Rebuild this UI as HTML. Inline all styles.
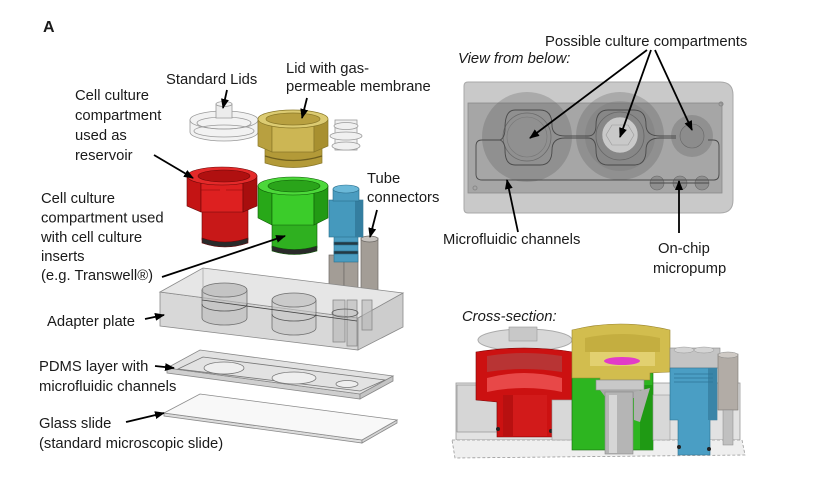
<!DOCTYPE html>
<html><head><meta charset="utf-8"><style>
html,body{margin:0;padding:0;background:#fff;}
svg{display:block;}
text{font-family:"Liberation Sans",sans-serif;font-size:14.8px;fill:#1a1a1a;}
</style></head><body>
<svg width="831" height="486" viewBox="0 0 831 486" xmlns="http://www.w3.org/2000/svg">
<defs>
<marker id="ah" markerWidth="10" markerHeight="8" refX="9" refY="4" orient="auto" markerUnits="userSpaceOnUse"><path d="M0,0 L10,4 L0,8 z" fill="#000"/></marker>
</defs>
<rect width="831" height="486" fill="#fff"/>

<!-- ===== Exploded view ===== -->
<!-- standard lid (transparent) -->
<g stroke="#9a9a9a" stroke-width="0.8" fill="#f2f2f2">
<path d="M190,120 L190,132 A34,9 0 0 0 258,132 L258,120 Z"/>
<ellipse cx="224" cy="120" rx="34" ry="9"/>
<ellipse cx="224" cy="123" rx="27" ry="6" fill="none"/>
<ellipse cx="224" cy="131" rx="30" ry="6" fill="none"/>
<path d="M216,104 L216,118 L232,118 L232,104 Z" fill="#ececec"/>
<ellipse cx="224" cy="104" rx="8" ry="2.5"/>
</g>
<!-- gold lid -->
<g stroke="#8a7828" stroke-width="0.7">
<path d="M265,148 L265,163 Q293,172 322,163 L322,148 Z" fill="#b39a38"/>
<path d="M265,156 Q293,165 322,156" fill="none" stroke="#6e5e1e" stroke-width="1.2"/>
<path d="M258,120 L272,126 L272,152 L258,146 Z" fill="#b8a040"/>
<path d="M272,126 L314,126 L314,152 L272,152 Z" fill="#ccb654"/>
<path d="M314,126 L328,120 L328,146 L314,152 Z" fill="#a89030"/>
<ellipse cx="293" cy="119" rx="35" ry="9" fill="#dccb72"/>
<ellipse cx="293" cy="119" rx="27" ry="6" fill="#b8a040"/>
</g>
<!-- small transparent connector -->
<g stroke="#9a9a9a" stroke-width="0.8" fill="#f0f0f0">
<rect x="335" y="120" width="22" height="30"/>
<ellipse cx="346" cy="146" rx="14" ry="4"/>
<ellipse cx="346" cy="136" rx="16" ry="4"/>
<ellipse cx="346" cy="126" rx="12" ry="3.5"/>
</g>
<!-- red -->
<g stroke="#6a0808" stroke-width="0.6">
<path d="M202,208 L202,240 Q225,248 248,240 L248,208 Z" fill="#c81818"/>
<path d="M202,238 Q225,246 248,238 L248,243 Q225,251 202,243 Z" fill="#2a2a2a"/>
<path d="M187,176 L201,183 L201,212 L187,206 Z" fill="#c41414"/>
<path d="M201,183 L243,183 L243,212 L201,212 Z" fill="#dd2020"/>
<path d="M243,183 L257,176 L257,206 L243,212 Z" fill="#a80e0e"/>
<path d="M201,190 L220,190 M226,190 L243,190" stroke="#8a0a0a" fill="none"/>
<ellipse cx="222" cy="176" rx="35" ry="9" fill="#e42a2a"/>
<ellipse cx="224" cy="176" rx="26" ry="6" fill="#b01010"/>
</g>
<!-- green -->
<g stroke="#0e5a06" stroke-width="0.6">
<path d="M272,222 L272,248 Q294,255 317,248 L317,222 Z" fill="#2fb020"/>
<path d="M272,246 Q294,253 317,246 L317,251 Q294,258 272,251 Z" fill="#2a2a2a"/>
<path d="M258,186 L272,193 L272,225 L258,218 Z" fill="#28a818"/>
<path d="M272,193 L314,193 L314,225 L272,225 Z" fill="#3bcc2a"/>
<path d="M314,193 L328,186 L328,218 L314,225 Z" fill="#229a14"/>
<ellipse cx="293" cy="186" rx="35" ry="9" fill="#4cd83a"/>
<ellipse cx="294" cy="186" rx="26" ry="6" fill="#2aa41a"/>
</g>
<!-- gray tube connectors -->
<g stroke="#6e6a66" stroke-width="0.7" fill="#a39d96">
<rect x="329" y="255" width="15" height="33"/>
<rect x="344" y="255" width="14" height="33"/>
<rect x="333" y="288" width="7" height="8"/>
<rect x="347" y="288" width="7" height="8"/>
<rect x="361" y="238" width="17" height="52"/>
<rect x="365" y="290" width="9" height="8"/>
<ellipse cx="369.5" cy="239" rx="8.5" ry="3" fill="#c8c4c0"/>
</g>
<!-- blue -->
<g stroke="#2b6f8d" stroke-width="0.6">
<rect x="334" y="236" width="24" height="26" fill="#4a9cc0"/>
<rect x="334" y="242" width="24" height="3" fill="#243a44"/>
<rect x="334" y="251" width="24" height="3" fill="#243a44"/>
<rect x="329" y="200" width="34" height="37" fill="#4599bd"/>
<rect x="355" y="200" width="8" height="37" fill="#347ea0" stroke="none"/>
<rect x="333" y="189" width="26" height="12" fill="#4a9cc0"/>
<ellipse cx="346" cy="189" rx="13" ry="4" fill="#6ab8d8"/>
</g>

<!-- adapter plate -->
<g stroke="#8a8a8a" stroke-width="0.8">
<path d="M160,292 L358,318 L358,350 L160,326 Z" fill="#d8d8d8"/>
<path d="M358,318 L403,293 L403,327 L358,350 Z" fill="#cdcdcd"/>
<path d="M160,292 L203,268 L403,293 L358,318 Z" fill="#e6e6e6"/>
<path d="M202,290 L202,318 A22.5,7 0 0 0 247,318 L247,290" fill="#bdbdbd" fill-opacity="0.6" stroke="#6f6f6f"/>
<ellipse cx="224.5" cy="290" rx="22.5" ry="7" fill="#c4c4c4" stroke="#6f6f6f"/>
<path d="M202,304 A22.5,7 0 0 0 247,304" fill="none" stroke="#555"/>
<path d="M272,300 L272,328 A22,7 0 0 0 316,328 L316,300" fill="#c4c4c4" fill-opacity="0.6" stroke="#6f6f6f"/>
<ellipse cx="294" cy="300" rx="22" ry="7" fill="#cacaca" stroke="#6f6f6f"/>
<path d="M272,314 A22,7 0 0 0 316,314" fill="none" stroke="#555"/>
<rect x="333" y="300" width="12" height="42" fill="#b8b8b8" fill-opacity="0.6"/>
<rect x="347" y="300" width="10" height="46" fill="#b8b8b8" fill-opacity="0.6"/>
<rect x="362" y="300" width="10" height="30" fill="#b8b8b8" fill-opacity="0.6"/>
<ellipse cx="345" cy="313" rx="13" ry="4" fill="none" stroke="#555"/>
<path d="M202,300 L357,321" stroke="#444" fill="none"/>
<path d="M203,268 L203,300" stroke="#aaa"/>
</g>
<!-- PDMS -->
<g stroke="#888" stroke-width="0.8">
<path d="M167,368 L360,394 L360,399 L167,373 Z" fill="#cfcfcf"/>
<path d="M360,394 L393,376 L393,381 L360,399 Z" fill="#c4c4c4"/>
<path d="M167,368 L200,350 L393,376 L360,394 Z" fill="#e2e2e2"/>
<path d="M178,369 L203,357 L385,380 L360,391 Z" fill="none" stroke="#777"/>
<ellipse cx="224" cy="368" rx="20" ry="6" fill="#eee" stroke="#777"/>
<ellipse cx="294" cy="378" rx="22" ry="6" fill="#eee" stroke="#777"/>
<ellipse cx="347" cy="384" rx="11" ry="3.5" fill="#eee" stroke="#777"/>
</g>
<!-- glass -->
<g stroke="#8a8a8a" stroke-width="0.8">
<path d="M164,413 L362,440 L362,443 L164,416 Z" fill="#dddddd"/>
<path d="M362,440 L397,420 L397,423 L362,443 Z" fill="#d4d4d4"/>
<path d="M164,413 L200,394 L397,420 L362,440 Z" fill="#f8f8f8"/>
</g>

<!-- ===== View from below ===== -->
<path d="M468,82 L720,82 Q733,82 733,95 L733,200 Q733,213 720,213 L468,213 Q464,213 464,209 L464,86 Q464,82 468,82 Z" fill="#c9c9c9" stroke="#a8a8a8"/>
<rect x="468" y="103" width="254" height="90" fill="#a6a6a6" stroke="#8a8a8a" stroke-width="0.8"/>
<circle cx="527" cy="137" r="45" fill="#5a5a5a" fill-opacity="0.28"/>
<circle cx="527" cy="137" r="24" fill="none" stroke="#6a6a6a" stroke-width="0.8"/>
<circle cx="527" cy="137" r="20" fill="none" stroke="#777" stroke-width="0.6"/>
<circle cx="620" cy="136" r="44" fill="#5a5a5a" fill-opacity="0.28"/>
<circle cx="620" cy="136" r="35" fill="#6a6a6a" fill-opacity="0.22"/>
<circle cx="620" cy="136" r="24" fill="none" stroke="#666" stroke-width="0.8"/>
<circle cx="620" cy="135" r="18" fill="#c9c9c9" stroke="#888" stroke-width="0.6"/>
<path d="M612,125 L628,125 L634,135 L628,145 L612,145 L606,135 Z" fill="none" stroke="#999" stroke-width="0.6"/>
<circle cx="692" cy="136" r="21" fill="#5a5a5a" fill-opacity="0.28"/>
<circle cx="692" cy="136" r="12" fill="#8c8c8c" stroke="#666" stroke-width="0.6"/>
<g fill="#5a5a5a" fill-opacity="0.3" stroke="#666" stroke-width="0.6">
<circle cx="657" cy="183" r="7"/><circle cx="680" cy="183" r="7"/><circle cx="702" cy="183" r="7"/>
</g>
<g fill="none" stroke="#4a4a4a" stroke-width="0.9">
<path d="M500,140 L482,140 Q476,140 476,146 L476,174 Q476,180 482,180 L714,180 Q719,180 719,174 L719,146 Q719,140 713,140 L708,140"/>
<path d="M500,140 Q505,138 505,128 Q505,110 515,110 L540,110 Q552,110 552,125 Q552,136 565,136 L588,136 Q596,136 596,125 Q596,110 608,110 L634,110 Q646,110 646,125 Q646,136 660,136 L676,136"/>
<path d="M500,140 Q505,142 505,150 Q505,165 515,165 L540,165 Q552,165 552,150 Q552,138 565,138 L588,138 Q596,138 596,150 Q596,165 608,165 L634,165 Q646,165 646,150 Q646,138 660,138 L676,138"/>
<path d="M650,183 L709,183"/>
</g>
<circle cx="475" cy="188" r="2" fill="none" stroke="#888"/>
<circle cx="721" cy="104" r="2" fill="none" stroke="#888"/>

<!-- ===== Cross-section ===== -->
<rect x="456" y="383" width="284" height="57" fill="#e2e2e2" stroke="#999" stroke-width="0.8"/>
<rect x="457" y="385" width="40" height="47" fill="#d6d6d6" stroke="#888" stroke-width="0.6"/>
<path d="M452,440 L742,440 L745,455 L455,458 Z" fill="#efefef" stroke="#999" stroke-dasharray="3,2" stroke-width="0.8"/>
<ellipse cx="525" cy="340" rx="47" ry="11" fill="#d8d8d8" stroke="#aaa"/>
<rect x="509" y="327" width="28" height="14" fill="#c8c8c8" stroke="#999" stroke-width="0.6"/>
<!-- red -->
<path d="M476,352 Q524,344 573,352 L573,402 L552,404 L552,437 L497,437 L497,402 L476,400 Z" fill="#cc1111" stroke="#7a0808" stroke-width="0.6"/>
<path d="M487,356 Q524,350 562,356 L562,372 Q524,366 487,372 Z" fill="#b83434"/>
<path d="M487,378 Q524,368 562,378 L562,392 Q524,384 487,392 Z" fill="#e84848"/>
<rect x="503" y="395" width="44" height="41" fill="#d21a1a"/>
<rect x="503" y="395" width="10" height="41" fill="#b81010"/>
<circle cx="498" cy="429" r="2" fill="#222"/><circle cx="551" cy="431" r="2" fill="#222"/>
<rect x="552" y="400" width="20" height="40" fill="#d8d8d8" stroke="#999" stroke-width="0.6"/>
<!-- green -->
<rect x="572" y="373" width="81" height="77" fill="#2db520" stroke="#166a0c" stroke-width="0.6"/>
<rect x="640" y="385" width="13" height="65" fill="#1f9a14"/>
<!-- gold -->
<path d="M572,330 Q620,318 670,330 L670,372 L650,373 L650,380 L600,380 L600,378 L572,378 Z" fill="#d2bd4e" stroke="#9a8530" stroke-width="0.6"/>
<path d="M585,338 Q622,330 660,338 L660,352 L585,352 Z" fill="#c4ae40"/>
<rect x="590" y="352" width="65" height="14" fill="#e2d070"/>
<ellipse cx="622" cy="361" rx="18" ry="4" fill="#e23cc8"/>
<!-- gray insert -->
<rect x="596" y="380" width="48" height="10" fill="#c8c8c8" stroke="#888" stroke-width="0.6"/>
<path d="M600,390 L640,390 L634,398 L606,398 Z" fill="#a8a8a8"/>
<path d="M634,392 L650,388 L640,422 L634,420 Z" fill="#b0b0b0"/>
<rect x="605" y="392" width="28" height="62" fill="#b5b5b5" stroke="#888" stroke-width="0.6"/>
<rect x="609" y="395" width="8" height="58" fill="#d6d6d6"/>
<rect x="653" y="395" width="17" height="45" fill="#d8d8d8" stroke="#999" stroke-width="0.6"/>
<!-- blue -->
<rect x="670" y="348" width="50" height="20" fill="#c4c4c4" stroke="#888" stroke-width="0.6"/>
<ellipse cx="684" cy="350" rx="10" ry="3" fill="#d4d4d4" stroke="#999" stroke-width="0.5"/>
<ellipse cx="704" cy="350" rx="10" ry="3" fill="#d4d4d4" stroke="#999" stroke-width="0.5"/>
<path d="M670,368 L717,368 L717,420 L710,420 L710,455 L678,455 L678,420 L670,420 Z" fill="#4a9ec4" stroke="#2b6f8d" stroke-width="0.6"/>
<rect x="708" y="368" width="9" height="52" fill="#3a85a8"/>
<path d="M674,374 L713,374 M674,378 L713,378 M674,382 L713,382" stroke="#2e7596" stroke-width="0.8"/>
<circle cx="679" cy="447" r="2" fill="#222"/><circle cx="709" cy="449" r="2" fill="#222"/>
<!-- right tube -->
<rect x="718" y="354" width="20" height="56" fill="#b2aca6" stroke="#7b7670" stroke-width="0.6"/>
<ellipse cx="728" cy="355" rx="10" ry="3" fill="#cfcac5" stroke="#888" stroke-width="0.5"/>
<rect x="723" y="410" width="10" height="35" fill="#c0c0c0" stroke="#888" stroke-width="0.5"/>

<!-- ===== Arrows ===== -->
<g stroke="#000" stroke-width="1.8" fill="none" marker-end="url(#ah)">
<line x1="227" y1="90" x2="223" y2="108"/>
<line x1="307" y1="98" x2="302" y2="118"/>
<line x1="154" y1="155" x2="193" y2="178"/>
<line x1="162" y1="277" x2="285" y2="236"/>
<line x1="377" y1="210" x2="370" y2="237"/>
<line x1="145" y1="319" x2="164" y2="315"/>
<line x1="155" y1="366" x2="174" y2="368"/>
<line x1="126" y1="422" x2="164" y2="413"/>
<line x1="647" y1="50" x2="530" y2="138"/>
<line x1="651" y1="50" x2="620" y2="137"/>
<line x1="655" y1="50" x2="692" y2="130"/>
<line x1="518" y1="232" x2="507" y2="180"/>
<line x1="679" y1="233" x2="679" y2="181"/>
</g>

<!-- ===== Text ===== -->
<text x="43" y="32" style="font-weight:bold;font-size:16px">A</text>
<text x="166" y="84">Standard Lids</text>
<text x="286" y="73">Lid with gas-</text>
<text x="286" y="91">permeable membrane</text>
<text x="75" y="100">Cell culture</text>
<text x="75" y="120">compartment</text>
<text x="75" y="140">used as</text>
<text x="75" y="160">reservoir</text>
<text x="41" y="203">Cell culture</text>
<text x="41" y="222.5">compartment used</text>
<text x="41" y="242">with cell culture</text>
<text x="41" y="261">inserts</text>
<text x="41" y="280">(e.g. Transwell®)</text>
<text x="367" y="183">Tube</text>
<text x="367" y="202">connectors</text>
<text x="47" y="326">Adapter plate</text>
<text x="39" y="371">PDMS layer with</text>
<text x="39" y="391">microfluidic channels</text>
<text x="39" y="428">Glass slide</text>
<text x="39" y="448">(standard microscopic slide)</text>
<text x="545" y="46">Possible culture compartments</text>
<text x="458" y="63" style="font-style:italic">View from below:</text>
<text x="443" y="244">Microfluidic channels</text>
<text x="658" y="253">On-chip</text>
<text x="653" y="273">micropump</text>
<text x="462" y="321" style="font-style:italic">Cross-section:</text>
</svg>
</body></html>
